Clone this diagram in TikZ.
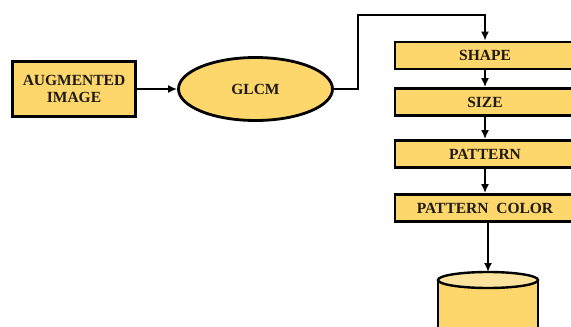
\documentclass[tikz,border=0pt]{standalone}
\usepackage{fontspec}
\setmainfont{Liberation Serif}
\usetikzlibrary{arrows.meta,shapes.geometric}
\definecolor{boxfill}{HTML}{FDD66C}
\definecolor{topfill}{HTML}{FCE49E}
\definecolor{inkcol}{HTML}{1E1A14}
\tikzset{
  every node/.style={font=\fontsize{15.5}{16}\selectfont\bfseries, text=inkcol},
  block/.style={draw=black, line width=2.8pt, fill=boxfill, inner sep=0pt},
  feature/.style={block, minimum width=180pt, minimum height=27pt},
  flow/.style={draw=black, line width=2.4pt, -{Latex[length=9pt,width=8pt]}},
}
\begin{document}
\begin{tikzpicture}[x=1pt,y=-1pt]
\useasboundingbox (0,0) rectangle (571,327);
\clip (0,0) rectangle (571,327);

% input and texture extraction
\node[block, minimum width=123pt, minimum height=55pt, align=center,
      font=\fontsize{15.5}{16.5}\selectfont\bfseries] (aug) at (74,89) {AUGMENTED\\IMAGE};
\node[block, ellipse, minimum width=154pt, minimum height=63pt] (glcm) at (255.5,89) {GLCM};

% feature stack
\node[feature] (shape)   at (485,55.5)  {SHAPE};
\node[feature] (size)    at (485,102)   {SIZE};
\node[feature] (pattern) at (485,154)   {PATTERN};
\node[feature] (pcolor)  at (485,208)   {PATTERN\ \ COLOR};

% storage cylinder, running off the lower edge
\coordinate (dbtop) at (488,272);
\fill[boxfill] (438,280) -- (438,340) -- (538,340) -- (538,280) -- cycle;
\draw[line width=2.6pt] (438,280) -- (438,340);
\draw[line width=2.6pt] (538,280) -- (538,340);
\draw[line width=2.4pt, fill=topfill] (488,280) ellipse [x radius=50, y radius=8];

% connectors
\draw[flow] (aug.east) -- (glcm.west);
\draw[flow] (glcm.east) -- ++(24,0) |- (485,15) -- (shape.north);
\draw[flow] (shape.south) -- (size.north);
\draw[flow] (size.south) -- (pattern.north);
\draw[flow] (pattern.south) -- (pcolor.north);
\draw[flow] (pcolor.south -| dbtop) -- (dbtop);
\end{tikzpicture}
\end{document}
